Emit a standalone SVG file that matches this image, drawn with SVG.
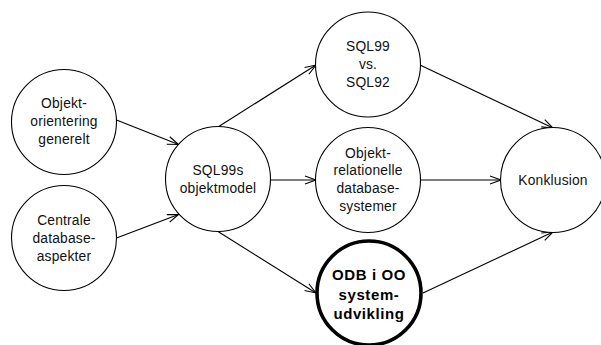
<svg xmlns="http://www.w3.org/2000/svg" width="601" height="345" viewBox="0 0 601 345">
  <style>
    .node { fill: #fff; stroke: #000; stroke-width: 1.1; }
    .bold-node { fill: #fff; stroke: #000; stroke-width: 3.6; }
    .label { font-family: "Liberation Sans", Arial, sans-serif; font-size: 13.8px; fill: #111; text-anchor: middle; letter-spacing: 0.2px; }
    .label-bold { font-family: "Liberation Sans", Arial, sans-serif; font-size: 15px; font-weight: bold; fill: #000; text-anchor: middle; letter-spacing: 0.6px; }
    .edge { fill: none; stroke: #000; stroke-width: 1.1; marker-end: url(#open-arrow); }
  </style>
  <defs>
    <marker id="open-arrow" markerUnits="userSpaceOnUse" markerWidth="14" markerHeight="12" viewBox="-12 -6 14 12" refX="0" refY="0" orient="auto">
      <path d="M-11,-4 L0,0 L-11,4" fill="none" stroke="#000" stroke-width="1.1"/>
    </marker>
  </defs>

  <rect width="601" height="345" fill="#fff"/>

  <g id="connectors">
    <line class="edge" x1="116.5" y1="120" x2="178.5" y2="144.5"/>
    <line class="edge" x1="116.5" y1="238" x2="178.5" y2="214.5"/>
    <line class="edge" x1="218" y1="127" x2="316" y2="65"/>
    <line class="edge" x1="270" y1="180" x2="316" y2="180"/>
    <line class="edge" x1="218" y1="231.5" x2="316" y2="293"/>
    <line class="edge" x1="420" y1="65" x2="553" y2="128"/>
    <line class="edge" x1="420" y1="180" x2="501" y2="180"/>
    <line class="edge" x1="423" y1="293" x2="553" y2="232"/>
  </g>

  <g id="objektorientering">
    <circle class="node" cx="64" cy="122" r="52.5"/>
    <text class="label" x="64" y="108">Objekt-</text>
    <text class="label" x="64" y="126">orientering</text>
    <text class="label" x="64" y="144">generelt</text>
  </g>

  <g id="databaseaspekter">
    <circle class="node" cx="64" cy="238" r="52.5"/>
    <text class="label" x="64" y="225">Centrale</text>
    <text class="label" x="64" y="243">database-</text>
    <text class="label" x="64" y="261">aspekter</text>
  </g>

  <g id="objektmodel">
    <circle class="node" cx="218" cy="179" r="52.5"/>
    <text class="label" x="218" y="175">SQL99s</text>
    <text class="label" x="218" y="192.5">objektmodel</text>
  </g>

  <g id="sql99-vs-sql92">
    <circle class="node" cx="368" cy="64.5" r="52.5"/>
    <text class="label" x="368" y="50.5">SQL99</text>
    <text class="label" x="368" y="68.5">vs.</text>
    <text class="label" x="368" y="86.5">SQL92</text>
  </g>

  <g id="objektrelationelle">
    <circle class="node" cx="368" cy="180" r="52.5"/>
    <text class="label" x="368" y="157.5">Objekt-</text>
    <text class="label" x="368" y="175">relationelle</text>
    <text class="label" x="368" y="193">database-</text>
    <text class="label" x="368" y="211">systemer</text>
  </g>

  <g id="odb-systemudvikling">
    <circle class="bold-node" cx="369" cy="293" r="52"/>
    <text class="label-bold" x="369" y="280">ODB i OO</text>
    <text class="label-bold" x="369" y="299.5">system-</text>
    <text class="label-bold" x="369" y="318.5">udvikling</text>
  </g>

  <g id="konklusion">
    <circle class="node" cx="553" cy="180" r="52.5"/>
    <text class="label" x="553" y="185">Konklusion</text>
  </g>
</svg>
